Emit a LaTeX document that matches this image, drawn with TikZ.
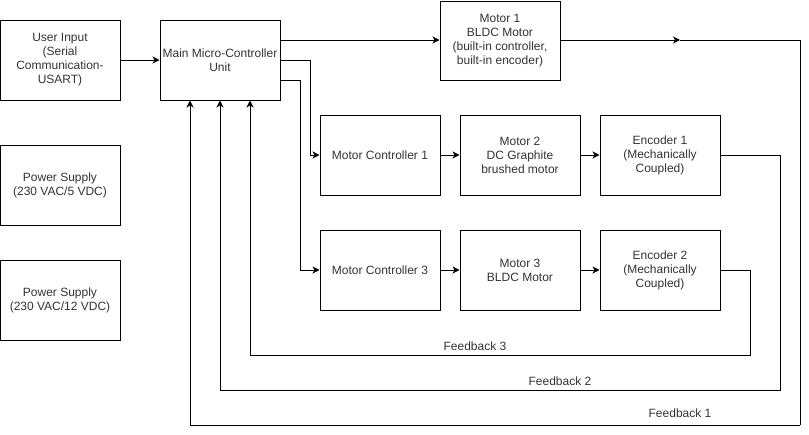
\documentclass[tikz,border=0pt]{standalone}
\usepackage{fontspec}
\setmainfont{Liberation Sans}
\usetikzlibrary{arrows.meta}
\begin{document}
\begin{tikzpicture}[x=1pt,y=-1pt,
  blk/.style={draw=black,line width=1pt,minimum width=120pt,minimum height=80pt,inner sep=2pt,
    align=center,text=black!80,font=\fontsize{12}{14}\selectfont},
  arr/.style={draw=black,line width=1pt,-{Stealth[length=7pt,width=7pt,inset=2pt]}},
  ln/.style={draw=black,line width=1pt},
  lbl/.style={text=black!80,font=\fontsize{12}{14}\selectfont,inner sep=0pt}]
\useasboundingbox (0,0) rectangle (809,434);
% blocks
\node[blk] (ui)  at (60,60)  {User Input\\(Serial\\Communication-\\USART)};
\node[blk] (ps1) at (60,185) {Power Supply\\(230 VAC/5 VDC)};
\node[blk] (ps2) at (60,300) {Power Supply\\(230 VAC/12 VDC)};
\node[blk] (mcu) at (220,60) {Main Micro-Controller\\Unit};
\node[blk,minimum height=79pt] (m1) at (500,40.5) {Motor 1\\BLDC Motor\\(built-in controller,\\built-in encoder)};
\node[blk] (mc1) at (380,155) {Motor Controller 1};
\node[blk] (m2)  at (520,155) {Motor 2\\DC Graphite\\brushed motor};
\node[blk] (e1)  at (660,155) {Encoder 1\\(Mechanically\\Coupled)};
\node[blk] (mc3) at (380,270) {Motor Controller 3};
\node[blk] (m3)  at (520,270) {Motor 3\\BLDC Motor};
\node[blk] (e2)  at (660,270) {Encoder 2\\(Mechanically\\Coupled)};
% forward connectors
\draw[arr] (ui) -- (mcu);
\draw[arr] ([yshift=20pt]mcu.east) -- ([yshift=20pt]mcu.east -| m1.west);
\draw[arr] (mcu.east) -- ++(30,0) |- (mc1.west);
\draw[arr] ([yshift=-20pt]mcu.east) -- ++(20,0) |- (mc3.west);
\draw[arr] (mc1) -- (m2);
\draw[arr] (m2) -- (e1);
\draw[arr] (mc3) -- (m3);
\draw[arr] (m3) -- (e2);
% feedback 1
\coordinate (f1mid) at (680,40);
\coordinate (f1c) at (800,40);
\coordinate (f1d) at (800,425);
\draw[arr] ([yshift=20pt]mcu.east -| m1.east) -- (f1mid);
\draw[ln] (f1mid) -- (f1c) -- (f1d);
\draw[arr] (f1d) -| ([xshift=-30pt]mcu.south);
% feedback 2
\coordinate (f2c) at (780,390);
\draw[arr] (e1.east) -| (f2c) -| (mcu.south);
% feedback 3
\coordinate (f3c) at (750,355);
\draw[arr] (e2.east) -| (f3c) -| ([xshift=30pt]mcu.south);
% labels
\node[lbl] (l3) at (475,346) {Feedback 3};
\node[lbl] (l2) at (560,381) {Feedback 2};
\node[lbl] (l1) at (680,413) {Feedback 1};
\end{tikzpicture}
\end{document}
